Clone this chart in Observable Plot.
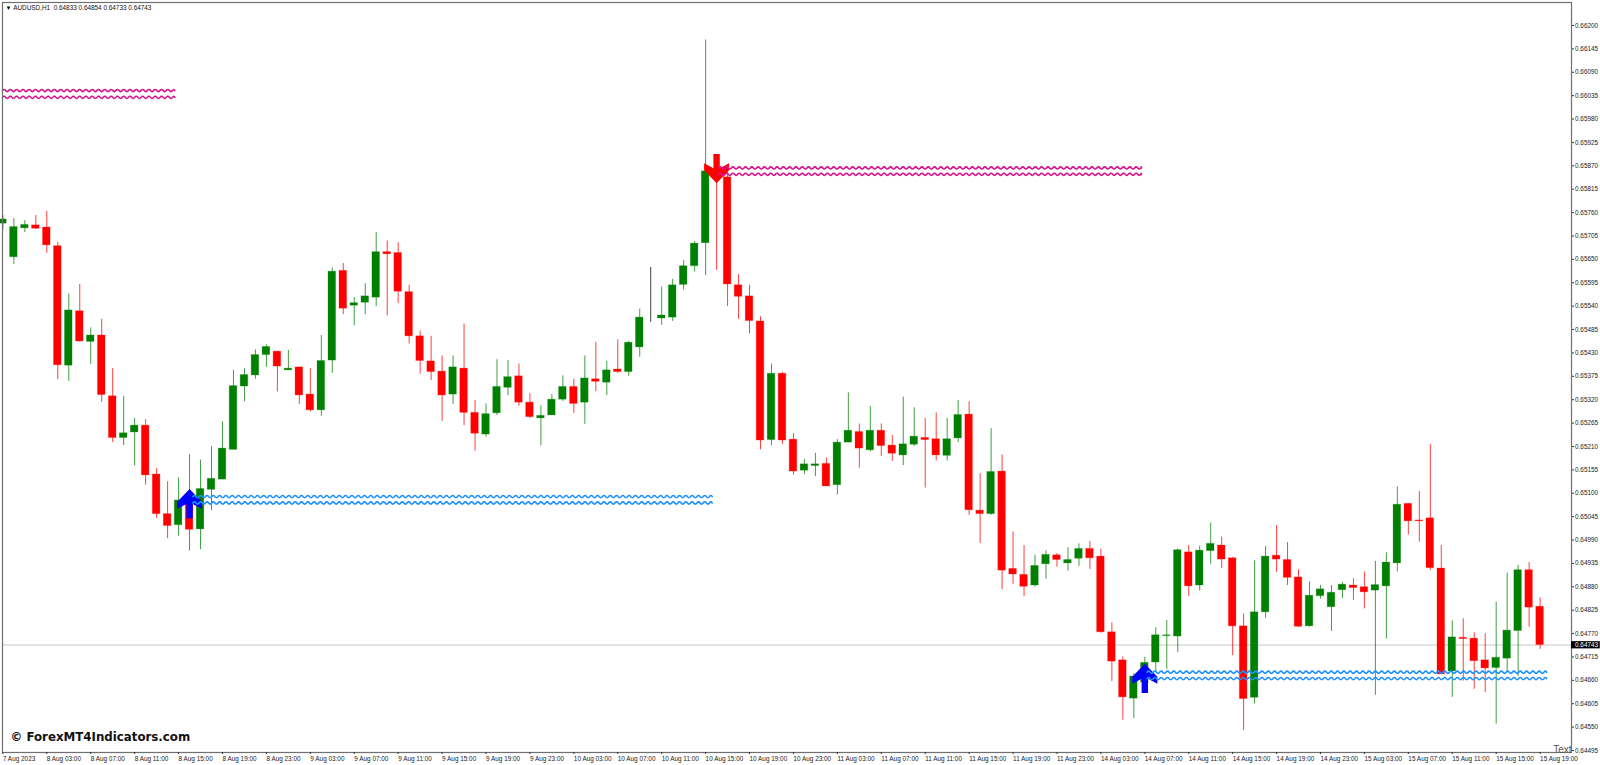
<!DOCTYPE html>
<html><head><meta charset="utf-8">
<style>html,body{margin:0;padding:0;background:#fff;overflow:hidden}svg{display:block}</style>
<script src="https://cdn.jsdelivr.net/npm/d3@7"></script>
<script src="https://cdn.jsdelivr.net/npm/@observablehq/plot@0.6"></script>
</head><body>
<script>
// AUDUSD H1 candles, prices x 1e5
const open = [65734,65655,65723,65730,65725,65681,65400,65528,65456,65471,65328,65230,65243,65259,65144,65051,65025,65083,65015,65108,65132,65202,65351,65377,65425,65433,65389,65396,65332,65295,65412,65623,65541,65548,65560,65667,65665,65573,65469,65410,65386,65332,65393,65289,65238,65288,65348,65375,65313,65276,65283,65320,65350,65313,65368,65360,65391,65385,65443,65513,65511,65513,65590,65634,65688,65857,65843,65589,65563,65504,65225,65381,65226,65153,65164,65169,65119,65219,65244,65201,65247,65212,65189,65214,65230,65227,65188,65229,65285,65059,65051,65151,64922,64908,64883,64933,64954,64935,64946,64969,64951,64773,64707,64617,64655,64702,64764,64763,64961,64883,64964,64977,64947,64787,64619,64820,64953,64943,64902,64787,64858,64832,64872,64883,64879,64871,64881,64935,65075,65036,65041,64923,64681,64760,64758,64707,64689,64711,64776,64919,64833];
const high = [65753,65746,65741,65753,65763,65690,65569,65591,65489,65509,65393,65328,65276,65273,65158,65127,65136,65191,65178,65210,65268,65389,65393,65437,65449,65433,65436,65396,65393,65471,65630,65640,65560,65593,65713,65693,65689,65589,65481,65469,65423,65423,65498,65318,65310,65414,65412,65404,65334,65306,65332,65376,65368,65423,65455,65410,65461,65457,65533,65631,65585,65603,65647,65692,66166,65883,65855,65614,65589,65515,65404,65384,65240,65179,65194,65183,65226,65336,65263,65304,65263,65236,65326,65301,65276,65289,65276,65318,65315,65146,65252,65190,65009,64977,64954,64965,64958,64972,64981,64987,64969,64795,64715,64676,64714,64784,64801,64969,64977,64976,65030,64997,64949,64816,64941,64975,65024,64984,64920,64892,64883,64883,64890,64899,64915,64940,64960,65115,65075,65104,65215,64977,64800,64805,64772,64770,64844,64912,64930,64937,64854];
const low = [65718,65638,65713,65720,65664,65367,65363,65455,65403,65314,65219,65212,65164,65119,65041,64993,64999,64964,64967,65059,65132,65202,65315,65368,65396,65338,65389,65309,65291,65281,65382,65520,65494,65520,65539,65517,65546,65451,65380,65365,65269,65309,65259,65199,65232,65283,65330,65304,65275,65211,65283,65316,65288,65262,65339,65330,65382,65375,65420,65502,65495,65504,65578,65620,65612,65624,65539,65509,65475,65202,65212,65215,65142,65144,65139,65116,65096,65219,65159,65197,65187,65175,65165,65210,65112,65176,65176,65219,65048,64982,65048,64873,64886,64857,64879,64898,64926,64917,64928,64921,64771,64657,64566,64570,64646,64681,64686,64725,64857,64870,64933,64923,64718,64542,64604,64806,64914,64883,64784,64785,64851,64775,64852,64848,64828,64625,64757,64915,65002,64985,64918,64674,64620,64658,64639,64631,64557,64681,64669,64785,64733];
const close = [65744,65726,65731,65722,65683,65401,65530,65457,65471,65331,65230,65241,65259,65142,65051,65023,65083,65014,65110,65134,65205,65352,65378,65425,65444,65398,65393,65330,65295,65411,65621,65534,65547,65563,65667,65662,65574,65469,65411,65385,65330,65396,65289,65240,65286,65350,65373,65313,65279,65282,65320,65350,65310,65370,65362,65389,65385,65454,65513,65513,65518,65589,65634,65687,65857,65843,65591,65562,65505,65224,65381,65224,65151,65168,65168,65116,65219,65247,65205,65247,65211,65193,65215,65233,65225,65189,65227,65284,65060,65051,65150,64918,64909,64880,64929,64955,64943,64943,64969,64947,64773,64704,64620,64669,64701,64766,64766,64966,64881,64965,64981,64944,64787,64616,64820,64951,64944,64901,64786,64859,64874,64866,64885,64877,64867,64884,64937,65073,65034,65034,64924,64674,64761,64757,64705,64688,64713,64777,64919,64831,64743];

const yTicks = [0.66200,0.66145,0.66090,0.66035,0.65980,0.65925,0.65870,0.65815,0.65760,0.65705,0.65650,0.65595,0.65540,0.65485,0.65430,0.65375,0.65320,0.65265,0.65210,0.65155,0.65100,0.65045,0.64990,0.64935,0.64880,0.64825,0.64770,0.64715,0.64660,0.64605,0.64550,0.64495];
const xTickLabels = ["7 Aug 2023","8 Aug 03:00","8 Aug 07:00","8 Aug 11:00","8 Aug 15:00","8 Aug 19:00","8 Aug 23:00","9 Aug 03:00","9 Aug 07:00","9 Aug 11:00","9 Aug 15:00","9 Aug 19:00","9 Aug 23:00","10 Aug 03:00","10 Aug 07:00","10 Aug 11:00","10 Aug 15:00","10 Aug 19:00","10 Aug 23:00","11 Aug 03:00","11 Aug 07:00","11 Aug 11:00","11 Aug 15:00","11 Aug 19:00","11 Aug 23:00","14 Aug 03:00","14 Aug 07:00","14 Aug 11:00","14 Aug 15:00","14 Aug 19:00","14 Aug 23:00","15 Aug 03:00","15 Aug 07:00","15 Aug 11:00","15 Aug 15:00","15 Aug 19:00"];
const xTickBars = xTickLabels.map((_, k) => k * 4);

// Zone levels drawn by the indicator
const zoneColor = ["#d4148c","#d4148c","#d4148c","#d4148c","#1e90ff","#1e90ff","#1e90ff","#1e90ff"];
const zonePrice = [0.66047,0.66031,0.65865,0.65850,0.65092,0.65077,0.64679,0.64664];
const zoneStart = [-0.04,-0.04,65.2,65.2,17.3,17.3,104.2,104.2];
const zoneEnd   = [15.66,15.66,103.7,103.7,64.6,64.6,140.6,140.6];

// Signal arrows: bar and price of the tip
const upBars = [17,104];
const upPrices = [0.65110,0.64699];
const downBars = [65];
const downPrices = [0.65829];

const lastPrice = 0.64743;
const headerSymbol = "AUDUSD,H1";
const headerValues = "0.64833 0.64854 0.64733 0.64743";

const bars = open.map((o,i)=>({i,
  o:o/1e5,h:high[i]/1e5,l:low[i]/1e5,c:close[i]/1e5,
  color: close[i]>o ? "#008000" : close[i]<o ? "#ff0000" : "#000000",
  top:Math.max(o,close[i])/1e5, bot:Math.min(o,close[i])/1e5}));
const zoneRows = zonePrice.flatMap((p,k)=>[
  {z:k,x:zoneStart[k],y:p,color:zoneColor[k]},
  {z:k,x:zoneEnd[k],y:p,color:zoneColor[k]}]);

// Line style: a wavy stroke between two points
function waveCurve(ctx){
  let started=false;
  const period=6.3, amp=2.2;
  return {
    lineStart(){started=false;},
    lineEnd(){},
    point(x,y){
      if(!started){ctx.moveTo(x,y);this.x0=x;started=true;return;}
      let cx=this.x0, s=1;
      while(cx<x-0.01){
        const nx=Math.min(cx+period/2,x);
        ctx.quadraticCurveTo((cx+nx)/2,y-s*amp,nx,y);
        cx=nx; s=-s;
      }
      this.x0=x;
    }
  };
}
// Arrow glyphs, origin at the tip
function arrowSymbol(dir){
  return {draw(c){
    const s=dir;
    c.moveTo(0,0);
    c.lineTo(12.5,s*13);
    c.lineTo(12.5,s*20);
    c.lineTo(3.2,s*15);
    c.lineTo(3.2,s*29.3);
    c.lineTo(-3.2,s*29.3);
    c.lineTo(-3.2,s*15);
    c.lineTo(-12.5,s*20);
    c.lineTo(-12.5,s*13);
    c.closePath();
  }};
}

const font="'Liberation Sans',Arial,sans-serif";
const xMax=142.86;
const chart=Plot.plot({
  width:1600,height:765,
  marginLeft:2,marginRight:29,marginTop:2,marginBottom:13,
  style:{fontFamily:font,fontSize:"6.4px",background:"#fff",color:"#222"},
  x:{type:"linear",domain:[-0.036,xMax],range:[2,1571],axis:null},
  y:{type:"linear",domain:[0.644903,0.662541],range:[752,2],axis:null},
  color:{type:"identity"},
  marks:[
    Plot.ruleY([lastPrice],{stroke:"#c8c8c8",strokeWidth:1}),
    Plot.ruleX(bars,{x:"i",y1:"l",y2:"h",stroke:"color",strokeWidth:1,strokeOpacity:0.75}),
    Plot.rect(bars,{x1:d=>d.i-0.345,x2:d=>d.i+0.345,y1:"bot",y2:"top",fill:"color",stroke:"color",strokeOpacity:0.25,strokeWidth:1}),
    Plot.dot(upBars.map((b,k)=>({b,p:upPrices[k]})),{x:"b",y:"p",fill:"#0000ff",symbol:arrowSymbol(1)}),
    Plot.dot(downBars.map((b,k)=>({b,p:downPrices[k]})),{x:"b",y:"p",fill:"#ff0000",symbol:arrowSymbol(-1)}),
    Plot.line(zoneRows,{x:"x",y:"y",z:"z",stroke:"color",strokeWidth:1.6,curve:waveCurve}),
    Plot.frame({stroke:"#707070",strokeWidth:1.2}),
    Plot.axisY(yTicks,{anchor:"right",tickSize:2,tickPadding:1.5,tickFormat:".5f",label:null,fontSize:6.4,color:"#222",stroke:"#333"}),
    Plot.axisX(xTickBars,{anchor:"bottom",tickSize:2,tickPadding:1.5,label:null,textAnchor:"start",fontSize:6.4,color:"#222",stroke:"#333",
      tickFormat:d=>xTickLabels[xTickBars.indexOf(d)]}),
    Plot.rect([lastPrice],{x1:xMax,x2:xMax+2.62,y1:d=>d-0.00009,y2:d=>d+0.00008,fill:"#000"}),
    Plot.text([lastPrice],{x:xMax,y:d=>d,text:d=>d.toFixed(5),fill:"#fff",textAnchor:"start",dx:3.5,fontSize:6.4}),
    Plot.text(["▼"],{frameAnchor:"top-left",dx:3,dy:3,fontSize:6,fill:"#000"}),
    Plot.text([headerSymbol+"  "+headerValues],{frameAnchor:"top-left",dx:10.7,dy:3,fontSize:6.4,fill:"#111"}),
    Plot.text(["© ForexMT4Indicators.com"],{frameAnchor:"bottom-left",dx:8,dy:-11.5,fontFamily:"'DejaVu Sans'",fontWeight:"bold",fontSize:11.8,fill:"#111"}),
    Plot.text(["Text"],{frameAnchor:"bottom-right",dx:0,dy:0,fontSize:10,fill:"#555"})
  ]
});
document.body.append(chart);
</script>
</body></html>
